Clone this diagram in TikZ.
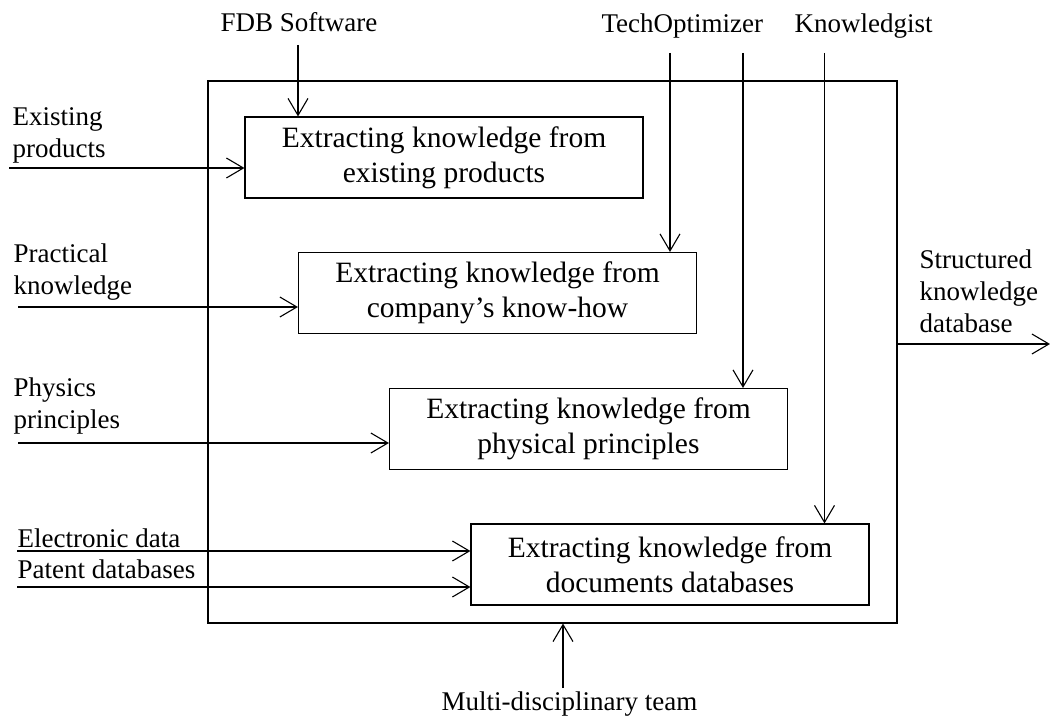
\documentclass[tikz,border=0pt]{standalone}
\usepackage{fontspec}
\setmainfont{Liberation Serif}
\usetikzlibrary{arrows.meta}
\begin{document}
\begin{tikzpicture}[x=1pt,y=-1pt,
  line width=1.1pt,
  arr/.style={-{Straight Barb[length=17pt,width=20pt,line width=1.1pt]}},
  proc/.style={draw, minimum width=398pt, minimum height=81pt, inner sep=0pt,
    align=center, font=\fontsize{29.5}{35}\selectfont},
  lbl/.style={inner sep=0pt, align=left, font=\fontsize{27}{32}\selectfont},
]
\useasboundingbox (0,0) rectangle (1050,717);

% enclosing system boundary
\node[draw, minimum width=689pt, minimum height=542pt, inner sep=0pt] (sys) at (552.5,352) {};

% extraction activities
\node[proc] (b1) at (444,157.5) {Extracting knowledge from\\existing products};
\node[proc] (b2) at (497.5,293) {Extracting knowledge from\\company’s know-how};
\node[proc] (b3) at (588.5,429) {Extracting knowledge from\\physical principles};
\node[proc] (b4) at (670,564.5) {Extracting knowledge from\\documents databases};

% inputs on the left (base anchor = baseline of the last line)
\node[lbl, anchor=base west] (lexist) at (12,157) {Existing\\products};
\node[lbl, anchor=base west] (lpract) at (13,294) {Practical\\knowledge};
\node[lbl, anchor=base west] (lphys) at (13,428) {Physics\\principles};
\node[lbl, anchor=base west] (lelec) at (17,547) {Electronic data};
\node[lbl, anchor=base west] (lpat) at (17,578) {Patent databases};

\coordinate (i1) at (9,168);
\coordinate (i2) at (18,307);
\coordinate (i3) at (18,443);
\coordinate (i4) at (17,551);
\coordinate (i5) at (17,587);
\draw[arr] (i1) -- (i1 -| b1.west);
\draw[arr] (i2) -- (i2 -| b2.west);
\draw[arr] (i3) -- (i3 -| b3.west);
\draw[arr] (i4) -- (i4 -| b4.west);
\draw[arr] (i5) -- (i5 -| b4.west);

% tools on top
\node[lbl, anchor=base west] (lfdb) at (220,32) {FDB Software};
\node[lbl, anchor=base west] (ltech) at (601,33) {TechOptimizer};
\node[lbl, anchor=base west] (lknow) at (794,33) {Knowledgist};

\coordinate (t1) at (298,45);
\coordinate (t2) at (670,53);
\coordinate (t3) at (743,53);
\coordinate (t4) at (824.5,53);
\draw[arr] (t1) -- (t1 |- b1.north);
\draw[arr] (t2) -- (t2 |- b2.north);
\draw[arr] (t3) -- (t3 |- b3.north);
\draw[arr] (t4) -- (t4 |- b4.north);

% output on the right
\node[lbl, anchor=base west] (lout) at (919,332) {Structured\\knowledge\\database};
\coordinate (o1) at (1050,344);
\draw[arr] (o1 -| sys.east) -- (o1);

% mechanism at the bottom
\node[lbl, anchor=base] (lteam) at (569.5,710) {Multi-disciplinary team};
\coordinate (m1) at (563,688);
\draw[arr] (m1) -- (m1 |- sys.south);
\end{tikzpicture}
\end{document}
